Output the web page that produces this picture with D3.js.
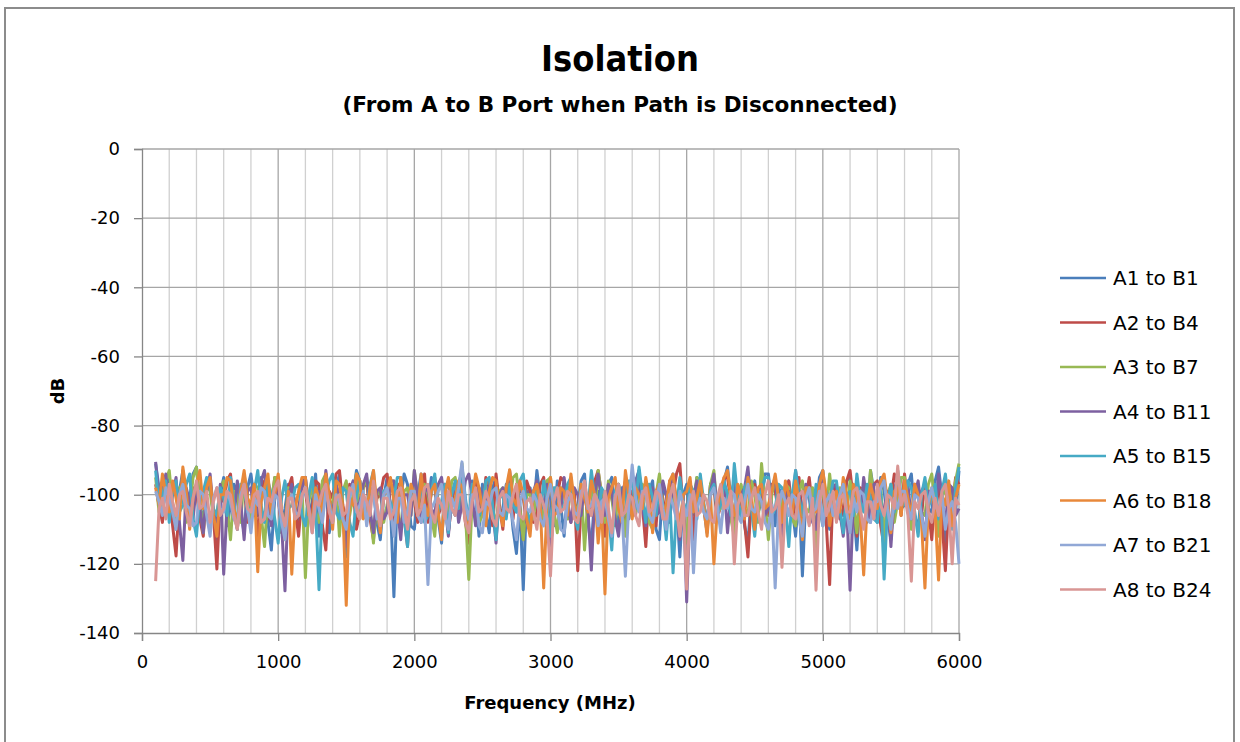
<!DOCTYPE html>
<html>
<head>
	<meta charset="utf-8">
	<title>Isolation</title>
	<script src="https://d3js.org/d3.v7.min.js"></script>
	<style>
		body { margin: 0; background: #fff; }
		text { font-family: "DejaVu Sans", sans-serif; fill: #000; }
	</style>
</head>
<body>
	<div id="chart"></div>
<script type="text/javascript">

	// sweep: 100 MHz to 6000 MHz, one point every 25 MHz
	var freqs = d3.range(100, 6001, 25);

	var seriesNames = ["A1 to B1", "A2 to B4", "A3 to B7", "A4 to B11", "A5 to B15", "A6 to B18", "A7 to B21", "A8 to B24"];
	var seriesColors = ["#4A7EBB", "#BE4B48", "#98B954", "#7D60A0", "#46AAC5", "#E8883A", "#91A8D6", "#D99694"];

	var xTicks = [0, 1000, 2000, 3000, 4000, 5000, 6000];
	var yTicks = [0, -20, -40, -60, -80, -100, -120, -140];

	// dB values, 237 per trace (one row = 500 MHz)
	var a1b1 = [
		-91,-98, -104,-95, -96,-107, -110,-99, -93,-105, -101,-94, -92,-103, -108,-96, -97,-106, -113,-100,
		-95,-109, -103,-97, -99,-105, -111,-98, -94,-102, -106,-95, -100,-108, -116,-101, -96,-110, -104,-97,
		-98,-103, -109,-96, -95,-107, -102,-94, -112,-100, -97,-111, -105,-98, -94,-106, -118,-99, -100,-93,
		-96,-104, -107,-98, -99,-108, -113,-101, -95,-103, -129.5,-99, -101,-94, -97,-109, -110,-100, -94,-106,
		-103,-95, -98,-107, -114,-99, -96,-104, -106,-97, -93,-102, -109,-96, -100,-112, -97,-105, -111,-98,
		-95,-106, -104,-97, -99,-110, -117,-102, -127.5,-100, -98,-105, -93,-101, -108,-96, -101,-109, -96,-103,
		-112,-99, -97,-106, -103,-96, -94,-108, -115,-100, -99,-105, -106,-97, -95,-104, -110,-98, -98,-107,
		-101,-96, -93,-104, -108,-99, -96,-110, -113,-98, -100,-106, -94,-103, -118,-100, -97,-108, -105,-95,
		-99,-104, -111,-97, -95,-106, -103,-96, -92,-101, -107,-98, -98,-109, -114,-100, -96,-105, -102,-94,
		-94,-103, -109,-98, -100,-107, -96,-104, -112,-99, -123.5,-101, -97,-106, -104,-95, -93,-102, -110,-97,
		-98,-105, -106,-96, -95,-103, -116,-100, -101,-108, -93,-99, -108,-95, -99,-107, -113,-98, -96,-104,
		-103,-97, -94,-106, -110,-99, -97,-104, -105,-96, -92,-101, -115,-98, -99,-105, -93];
	var a2b4 = [
		-97,-103, -108,-95, -100,-109, -117.7,-101, -95,-104, -105,-98, -99,-107, -112,-97, -96,-106, -121.5,-100,
		-102,-96, -94,-105, -110,-99, -98,-108, -106,-97, -114,-101, -96,-107, -103,-95, -100,-111, -109,-98,
		-95,-104, -112,-100, -99,-106, -104,-96, -97,-109, -116,-99, -101,-94, -93,-103, -108,-97, -98,-110,
		-105,-98, -96,-107, -113,-101, -100,-95, -94,-104, -109,-97, -97,-106, -115,-100, -102,-108, -99,-94,
		-108,-99, -95,-106, -103,-97, -111,-102, -97,-105, -100,-108, -114,-98, -96,-104, -106,-95, -98,-109,
		-94,-103, -110,-98, -101,-107, -97,-104, -113,-96, -99,-108, -105,-97, -95,-106, -117,-101, -100,-95,
		-96,-105, -108,-99, -122,-103, -98,-107, -104,-96, -93,-100, -112,-98, -101,-106, -97,-104, -110,-99,
		-99,-106, -95,-103, -115,-98, -102,-109, -97,-101, -107,-96, -100,-94, -91,-105, -104,-97, -113,-100,
		-96,-104, -109,-97, -98,-107, -103,-95, -95,-102, -111,-99, -100,-108, -118,-101, -97,-106, -94,-103,
		-106,-97, -99,-105, -113,-100, -96,-107, -102,-95, -108,-101, -95,-104, -110,-98, -100,-108, -126,-99,
		-97,-107, -104,-96, -93,-102, -112,-98, -99,-105, -106,-97, -96,-109, -115,-100, -101,-94, -98,-106,
		-94,-103, -109,-97, -100,-106, -96,-104, -113,-99, -98,-107, -122,-101, -104,-95, -97];
	var a3b7 = [
		-95,-105, -101,-96, -93,-103, -109,-98, -97,-108, -104,-95, -92,-102, -111,-97, -99,-107, -106,-98,
		-96,-104, -113,-99, -100,-108, -94,-101, -107,-97, -98,-106, -115,-100, -102,-95, -95,-105, -110,-98,
		-99,-107, -104,-98, -124,-102, -97,-105, -108,-96, -94,-103, -102,-97, -112,-99, -96,-106, -100,-94,
		-107,-98, -95,-104, -114,-100, -99,-108, -103,-96, -96,-105, -110,-99, -98,-106, -93,-101, -105,-97,
		-100,-106, -112,-98, -97,-107, -104,-96, -95,-100, -91,-105, -124.5,-101, -99,-108, -106,-97, -96,-104,
		-109,-99, -98,-106, -102,-95, -94,-104, -113,-100, -100,-107, -97,-103, -107,-96, -95,-105, -111,-98,
		-99,-107, -96,-103, -105,-97, -116,-101, -98,-106, -93,-100, -108,-96, -101,-109, -97,-104, -112,-99,
		-95,-105, -103,-97, -99,-108, -110,-100, -94,-103, -106,-98, -100,-107, -97,-104, -114,-99, -102,-95,
		-96,-103, -108,-97, -93,-105, -104,-98, -99,-107, -112,-100, -97,-104, -106,-96, -100,-108, -91,-102,
		-113,-100, -95,-106, -102,-97, -98,-107, -109,-99, -96,-104, -105,-98, -117,-101, -99,-106, -94,-103,
		-107,-98, -100,-105, -96,-103, -111,-99, -98,-106, -93,-101, -104,-97, -115,-100, -97,-108, -102,-95,
		-95,-104, -110,-98, -99,-105, -106,-97, -94,-103, -112,-100, -98,-107, -101,-96, -91];
	var a4b11 = [
		-90.5,-101, -99,-94, -106,-100, -95,-108, -119,-98, -102,-107, -97,-104, -111,-99, -94,-105, -108,-97,
		-123,-103, -100,-107, -96,-102, -113,-99, -98,-106, -105,-96, -93,-104, -109,-98, -101,-108, -127.8,-100,
		-97,-106, -104,-98, -95,-103, -110,-100, -99,-107, -93,-101, -107,-97, -100,-105, -115,-99, -96,-104,
		-102,-97, -94,-105, -111,-99, -98,-107, -105,-96, -96,-103, -113,-100, -100,-106, -93,-101, -108,-98,
		-99,-104, -106,-97, -95,-103, -112,-100, -97,-108, -103,-96, -94,-101, -109,-98, -100,-107, -96,-104,
		-114,-100, -98,-106, -93,-102, -105,-97, -101,-108, -110,-99, -96,-104, -103,-97, -117,-101, -99,-105,
		-95,-103, -108,-98, -100,-106, -97,-104, -121.8,-100, -94,-102, -106,-97, -99,-107, -112,-100, -96,-104,
		-103,-97, -93,-104, -109,-99, -98,-106, -105,-96, -100,-108, -95,-103, -113,-100, -131,-104, -101,-96,
		-97,-104, -107,-99, -94,-105, -102,-97, -111,-100, -96,-106, -100,-98, -92,-103, -108,-99, -98,-106,
		-104,-98, -95,-107, -114,-101, -99,-105, -93,-100, -106,-97, -101,-108, -110,-99, -96,-104, -103,-97,
		-98,-105, -112,-103, -127.6,-101, -100,-106, -95,-102, -108,-97, -97,-105, -104,-99, -115,-100, -94,-103,
		-101,-97, -107,-100, -96,-105, -113,-99, -99,-106, -94,-101, -109,-97, -98,-106, -104];
	var a5b15 = [
		-93,-103, -100,-96, -108,-99, -96,-105, -103,-97, -94,-107, -112,-100, -99,-95, -97,-104, -106,-98,
		-101,-106, -95,-102, -110,-97, -98,-105, -104,-99, -93,-103, -108,-96, -100,-107, -114,-101, -96,-104,
		-103,-98, -97,-106, -109,-100, -95,-104, -127.5,-102, -100,-96, -94,-105, -107,-98, -99,-108, -112,-100,
		-96,-103, -104,-97, -93,-106, -110,-99, -98,-105, -101,-95, -95,-107, -115,-100, -100,-104, -97,-108,
		-106,-99, -94,-105, -102,-97, -111,-100, -96,-104, -92,-101, -108,-97, -99,-106, -104,-96, -95,-103,
		-113,-101, -100,-107, -97,-103, -105,-96, -94,-104, -109,-99, -101,-106, -96,-102, -112,-98, -98,-105,
		-103,-97, -95,-106, -110,-100, -99,-104, -93,-101, -107,-98, -100,-105, -116,-99, -97,-107, -104,-96,
		-96,-104, -92,-100, -108,-97, -101,-106, -98,-103, -113,-100, -122.6,-104, -95,-102, -105,-97, -99,-107,
		-94,-102, -110,-99, -97,-105, -103,-96, -100,-106, -91,-101, -107,-98, -96,-104, -112,-100, -99,-95,
		-95,-106, -104,-97, -98,-103, -115,-100, -93,-101, -106,-98, -100,-107, -97,-104, -109,-99, -102,-96,
		-96,-104, -111,-100, -99,-106, -94,-102, -105,-97, -101,-107, -108,-99, -124.4,-103, -97,-105, -93,-100,
		-103,-96, -98,-105, -112,-100, -95,-104, -100,-97, -107,-99, -94,-103, -110,-98, -92];
	var a6b18 = [
		-98,-103, -94,-100, -105,-96, -101,-107, -92,-99, -110,-101, -97,-93, -104,-98, -95,-106, -112,-100,
		-100,-95, -96,-104, -108,-99, -93,-101, -103,-97, -122.3,-102, -98,-94, -106,-100, -94,-105, -113,-99,
		-123,-104, -99,-95, -95,-106, -107,-98, -101,-105, -94,-100, -110,-96, -97,-104, -132,-101, -103,-94,
		-96,-107, -105,-98, -93,-103, -111,-100, -99,-95, -102,-108, -95,-101, -108,-97, -100,-106, -94,-103,
		-106,-99, -97,-105, -113,-100, -95,-103, -101,-96, -98,-107, -110,-101, -94,-98, -104,-109, -99,-95,
		-96,-104, -109,-98, -92.8,-101, -103,-96, -100,-107, -112,-99, -97,-103, -127,-102, -95,-106, -105,-98,
		-99,-106, -94,-102, -108,-97, -101,-105, -96,-100, -114,-103, -128.7,-101, -98,-95, -104,-108, -93,-100,
		-107,-98, -100,-104, -95,-101, -111,-99, -97,-106, -103,-96, -94,-102, -109,-100, -99,-95, -105,-101,
		-96,-103, -112,-100, -120,-104, -98,-95, -93,-101, -106,-97, -101,-107, -95,-100, -110,-98, -97,-104,
		-103,-99, -94,-101, -108,-96, -100,-106, -96,-102, -113,-98, -98,-104, -105,-97, -93,-100, -109,-103,
		-99,-105, -95,-100, -107,-97, -101,-106, -123.2,-103, -97,-101, -104,-96, -94,-102, -111,-99, -98,-106,
		-96,-101, -106,-97, -100,-108, -127,-103, -98,-105, -124.7,-100, -103,-96, -109,-101, -97];
	var a7b21 = [
		-99,-102, -106,-98, -101,-105, -110,-100, -97,-103, -104,-109, -108,-99, -100,-106, -112,-101, -98,-104,
		-105,-99, -102,-107, -109,-100, -97,-104, -111,-101, -103,-98, -99,-106, -107,-100, -101,-108, -113,-102,
		-100,-105, -106,-101, -98,-104, -111,-100, -104,-108, -99,-103, -108,-100, -102,-107, -110,-101, -97,-105,
		-103,-99, -109,-102, -100,-107, -106,-100, -98,-104, -112,-101, -101,-108, -105,-99, -99,-106, -108,-103,
		-126,-104, -102,-99, -97,-106, -110,-101, -104,-98, -90.5,-103, -107,-100, -100,-109, -111,-102, -103,-99,
		-98,-105, -106,-100, -101,-108, -113,-102, -99,-104, -105,-100, -102,-107, -109,-101, -97,-103, -104,-110,
		-111,-102, -100,-105, -106,-99, -98,-104, -103,-100, -109,-102, -101,-107, -112,-100, -99,-105, -123.6,-103,
		-91.4,-101, -105,-99, -100,-106, -108,-102, -97,-104, -110,-100, -103,-107, -99,-103, -106,-100, -122.6,-104,
		-101,-105, -107,-100, -98,-103, -111,-101, -104,-99, -100,-106, -108,-102, -97,-104, -105,-100, -102,-108,
		-110,-103, -127,-104, -99,-102, -106,-100, -101,-107, -112,-101, -98,-105, -104,-99, -109,-102, -100,-106,
		-103,-100, -97,-105, -111,-101, -105,-99, -100,-107, -108,-102, -102,-98, -96,-104, -110,-101, -104,-99,
		-99,-104, -107,-100, -101,-106, -112,-102, -98,-103, -105,-100, -110,-104, -102,-108, -120];
	var a8b24 = [
		-125,-104, -101,-107, -97,-102, -106,-100, -99,-105, -109,-101, -96,-104, -103,-99, -108,-102, -98,-106,
		-104,-99, -100,-106, -110,-102, -97,-104, -105,-100, -99,-108, -107,-101, -102,-98, -96,-105, -109,-101,
		-101,-107, -106,-100, -98,-104, -111,-102, -103,-99, -97,-105, -108,-101, -100,-106, -105,-98, -99,-104,
		-107,-100, -102,-106, -96,-103, -109,-101, -101,-107, -105,-99, -98,-104, -110,-102, -100,-106, -104,-98,
		-97,-105, -108,-101, -103,-107, -99,-104, -106,-100, -100,-108, -111,-102, -98,-105, -104,-99, -102,-107,
		-109,-101, -99,-104, -105,-100, -97,-106, -107,-102, -101,-105, -110,-100, -103,-107, -123.5,-102, -98,-105,
		-104,-99, -100,-107, -108,-101, -96,-103, -106,-100, -102,-108, -99,-104, -111,-101, -97,-106, -105,-100,
		-101,-106, -109,-100, -98,-105, -104,-99, -100,-107, -107,-101, -97,-104, -112,-102, -127.3,-103, -99,-106,
		-105,-100, -102,-107, -108,-101, -97,-104, -103,-99, -120,-103, -100,-106, -106,-101, -98,-105, -110,-100,
		-96,-105, -104,-100, -121,-103, -101,-106, -107,-100, -99,-104, -109,-101, -127.6,-102, -97,-106, -103,-99,
		-108,-101, -100,-105, -105,-99, -98,-104, -110,-102, -102,-107, -97,-103, -106,-100, -101,-104, -91.7,-103,
		-100,-106, -125,-102, -104,-100, -99,-105, -108,-101, -106,-99, -97,-104, -120,-101, -103];

	var allSeries = [a1b1, a2b4, a3b7, a4b11, a5b15, a6b18, a7b21, a8b24];

	var w = 1240;
	var h = 742;
	var plot = { left: 142, right: 959, top: 149, bottom: 633 };

	var svg = d3.select("div#chart")
		.append("svg")
		.attr("width", w)
		.attr("height", h);

	// outer chart frame
	svg.append("rect")
		.attr("x", 5).attr("y", 8)
		.attr("width", 1229).attr("height", 800)
		.attr("fill", "#fff")
		.attr("stroke", "#8c8c8c")
		.attr("stroke-width", 2);

	var x = d3.scaleLinear().domain([0, 6000]).range([plot.left, plot.right]);
	var y = d3.scaleLinear().domain([-140, 0]).range([plot.bottom, plot.top]);

	// vertical gridlines every 200 MHz, darker at each 1000
	svg.append("g")
		.selectAll("line")
		.data(d3.range(200, 6001, 200))
		.enter()
		.append("line")
		.attr("x1", function(d) { return x(d); })
		.attr("x2", function(d) { return x(d); })
		.attr("y1", plot.top)
		.attr("y2", plot.bottom)
		.attr("stroke", function(d) { return d % 1000 === 0 ? "#a6a6a6" : "#d0d0d0"; })
		.attr("stroke-width", 1.3);

	// horizontal gridlines
	svg.append("g")
		.selectAll("line")
		.data(yTicks.filter(function(d) { return d > -140; }))
		.enter()
		.append("line")
		.attr("x1", plot.left)
		.attr("x2", plot.right)
		.attr("y1", function(d) { return y(d); })
		.attr("y2", function(d) { return y(d); })
		.attr("stroke", "#a6a6a6")
		.attr("stroke-width", 1.3);

	// y axis
	var yAxis = svg.append("g")
		.attr("transform", "translate(" + plot.left + ",0)")
		.call(d3.axisLeft(y).tickValues(yTicks).tickSize(8).tickPadding(14)
			.tickFormat(function(d) { return String(d); }));
	yAxis.selectAll("path, line").attr("stroke", "#868686").attr("stroke-width", 1.3);
	yAxis.selectAll("text")
		.attr("font-family", "DejaVu Sans, sans-serif")
		.attr("font-size", "18px")
		.attr("fill", "#000");

	// x axis
	var xAxis = svg.append("g")
		.attr("transform", "translate(0," + plot.bottom + ")")
		.call(d3.axisBottom(x).tickValues(xTicks).tickSize(8).tickPadding(14)
			.tickFormat(function(d) { return String(d); }));
	xAxis.selectAll("path, line").attr("stroke", "#868686").attr("stroke-width", 1.3);
	xAxis.selectAll("text")
		.attr("font-family", "DejaVu Sans, sans-serif")
		.attr("font-size", "18px")
		.attr("fill", "#000");

	// traces, A1 first so A8 sits on top
	var line = d3.line()
		.x(function(d, i) { return x(freqs[i]); })
		.y(function(d) { return y(d); });

	svg.append("g")
		.selectAll("path")
		.data(allSeries)
		.enter()
		.append("path")
		.attr("d", line)
		.attr("fill", "none")
		.attr("stroke", function(d, i) { return seriesColors[i]; })
		.attr("stroke-width", 3)
		.attr("stroke-linejoin", "round");

	// titles
	svg.append("text")
		.attr("x", 620).attr("y", 71)
		.attr("text-anchor", "middle")
		.attr("font-size", "36px")
		.attr("font-weight", "bold")
		.attr("textLength", 158)
		.attr("lengthAdjust", "spacingAndGlyphs")
		.text("Isolation");

	svg.append("text")
		.attr("x", 620).attr("y", 112)
		.attr("text-anchor", "middle")
		.attr("font-size", "22px")
		.attr("font-weight", "bold")
		.attr("textLength", 555)
		.attr("lengthAdjust", "spacingAndGlyphs")
		.text("(From A to B Port when Path is Disconnected)");

	svg.append("text")
		.attr("x", 550).attr("y", 709)
		.attr("text-anchor", "middle")
		.attr("font-size", "18px")
		.attr("font-weight", "bold")
		.text("Frequency (MHz)");

	svg.append("text")
		.attr("transform", "translate(64,391) rotate(-90)")
		.attr("text-anchor", "middle")
		.attr("font-size", "18px")
		.attr("font-weight", "bold")
		.text("dB");

	// legend
	var legend = svg.append("g")
		.selectAll("g")
		.data(seriesNames)
		.enter()
		.append("g")
		.attr("transform", function(d, i) { return "translate(1060," + (278 + i * 44.5) + ")"; });

	legend.append("line")
		.attr("x1", 0).attr("x2", 46)
		.attr("y1", 0).attr("y2", 0)
		.attr("stroke", function(d, i) { return seriesColors[i]; })
		.attr("stroke-width", 2.6);

	legend.append("text")
		.attr("x", 53)
		.attr("y", 7)
		.attr("font-size", "20px")
		.text(function(d) { return d; });

</script>
</body>
</html>
